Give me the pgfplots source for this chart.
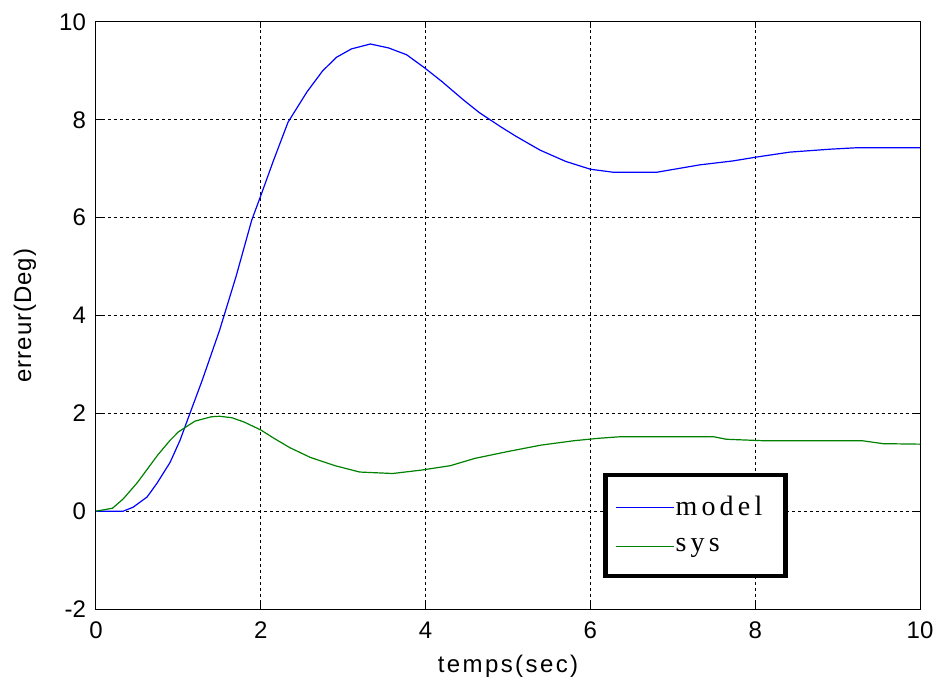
\documentclass[border=0pt]{standalone}
\usepackage{fontspec}
\setmainfont{Liberation Sans}
\newfontfamily\legfont[LetterSpace=15]{Liberation Serif}
\newfontfamily\xlblfont[LetterSpace=10]{Liberation Sans}
\newfontfamily\ylblfont[LetterSpace=4]{Liberation Sans}
\usepackage{pgfplots}
\pgfplotsset{compat=1.18}
\definecolor{mblue}{RGB}{0,0,255}
\definecolor{mgreen}{RGB}{0,128,0}
\begin{document}
\begin{tikzpicture}
\begin{axis}[
  width=412pt, height=293.5pt, scale only axis,
  xmin=0, xmax=10, ymin=-2, ymax=10,
  xtick={0,2,4,6,8,10}, ytick={-2,0,2,4,6,8,10},
  grid=major,
  major grid style={black, line width=0.5pt, dash pattern=on 1.5pt off 1.5pt},
  axis line style={black, line width=0.5pt},
  tick align=inside, major tick length=3pt, tick style={black, line width=0.5pt},
  /pgf/number format/assume math mode=true,
  ticklabel style={font=\fontsize{12}{14}\selectfont},
  xticklabel style={yshift=-3pt},
  yticklabel style={xshift=-1.5pt},
  xlabel={\xlblfont temps(sec)},
  ylabel={\ylblfont erreur(Deg)},
  label style={font=\fontsize{12}{14}\selectfont},
  xlabel style={at={(axis description cs:0.5,-0.0971)}, anchor=center},
  ylabel style={at={(axis description cs:-0.0862,0.5)}, anchor=center},
  legend style={at={(axis cs:6.155,0.78)}, anchor=north west, draw=black, line width=2.2pt,
    fill=white, inner xsep=5pt, inner ysep=10pt, row sep=9pt,
    font=\legfont\fontsize{14}{16}\selectfont, nodes={inner sep=0.5pt}},
  legend cell align=left,
  legend image code/.code={\draw[line width=0.6pt,#1] (0pt,0pt) -- (29pt,0pt);},
]
\addplot[draw=mblue, line width=0.6pt] coordinates {
(0,0) (0.33,0) (0.45,0.08) (0.62,0.29) (0.74,0.57) (0.9,1.0) (1.02,1.45) (1.14,2.0)
(1.29,2.68) (1.5,3.7) (1.7,4.8) (1.89,5.95) (2.0,6.45) (2.15,7.15) (2.33,7.95)
(2.56,8.57) (2.75,9.0) (2.92,9.28) (3.1,9.45) (3.33,9.55) (3.55,9.47) (3.77,9.33)
(3.99,9.06) (4.2,8.78) (4.45,8.42) (4.65,8.15) (4.9,7.87) (5.1,7.66) (5.39,7.38)
(5.7,7.15) (6.0,6.99) (6.27,6.93) (6.81,6.93) (7.33,7.08) (7.73,7.16) (8.02,7.24)
(8.42,7.34) (8.91,7.40) (9.24,7.43) (10,7.43)
};
\addlegendentry{model\hspace*{6pt}}
\addplot[draw=mgreen, line width=0.6pt] coordinates {
(0,0) (0.2,0.06) (0.33,0.25) (0.5,0.58) (0.75,1.15) (0.9,1.45) (1.0,1.62) (1.2,1.84)
(1.4,1.93) (1.5,1.94) (1.65,1.91) (1.8,1.82) (2.0,1.66) (2.15,1.50) (2.35,1.30)
(2.6,1.10) (2.9,0.93) (3.2,0.80) (3.6,0.77) (3.95,0.84) (4.3,0.93) (4.6,1.08)
(5.0,1.22) (5.4,1.35) (5.8,1.44) (6.1,1.49) (6.35,1.52) (7.5,1.52) (7.65,1.47)
(8.1,1.44) (9.3,1.44) (9.55,1.38) (10,1.37)
};
\addlegendentry{sys}
\end{axis}
\pgfresetboundingbox
\path ([shift={(-48pt,-38.5pt)}]current axis.south west) rectangle ([shift={(10.5pt,11pt)}]current axis.north east);
\end{tikzpicture}
\end{document}
